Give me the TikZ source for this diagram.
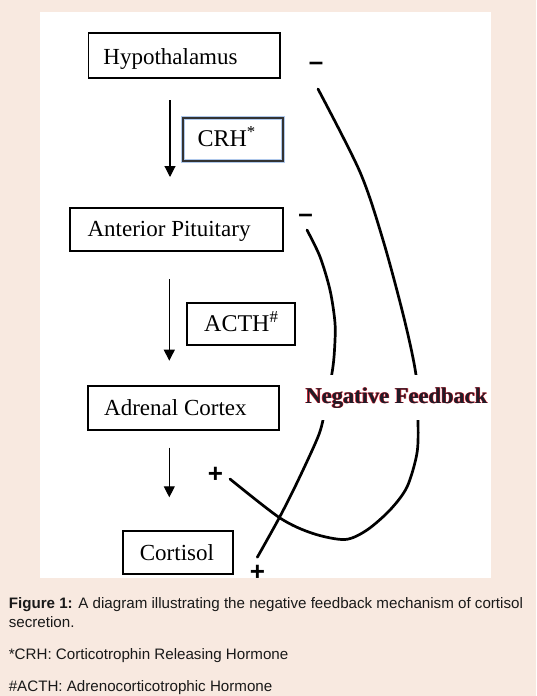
\documentclass[tikz,border=0pt]{standalone}
\usepackage{fontspec}
\setmainfont{Liberation Serif}
\newfontfamily\capfont{Liberation Sans}
\usetikzlibrary{arrows.meta}
\definecolor{bgpink}{RGB}{248,233,224}
\definecolor{glow}{RGB}{175,200,235}
\definecolor{nfred}{RGB}{225,30,45}
\definecolor{nfdark}{RGB}{30,28,40}
\begin{document}
\begin{tikzpicture}[x=1pt,y=-1pt,
  box/.style={draw=black, line width=1.8pt, anchor=north west, inner ysep=0pt,
    font=\fontsize{23}{27}\selectfont, text depth=14pt},
  crhbox/.style={box, draw=black!80, preaction={draw=glow, line width=3.8pt}},
  flow/.style={line width=1.1pt, -{Triangle[width=11pt,length=11pt]}},
  fb/.style={line width=2.7pt, line cap=round},
  sign/.style={font=\capfont\bfseries\fontsize{26}{26}\selectfont, inner sep=0pt},
  captxt/.style={font=\capfont\fontsize{15.15}{18}\selectfont, anchor=base west, inner sep=0pt, text=black!90}
]
\useasboundingbox (0,0) rectangle (536,696);
\fill[bgpink] (0,0) rectangle (536,696);
\fill[white] (40,12) rectangle (491,577.5);

% boxes
\node[box, inner xsep=15pt, text height=31.5pt] (hyp) at (87.5,31.8) {\makebox[161.5pt][l]{Hypothalamus}};
\node[crhbox, inner xsep=15pt, text height=28.7pt, font=\fontsize{24}{28}\selectfont] (crh) at (181.7,117.3) {\makebox[70pt][l]{CRH\textsuperscript{*}}};
\node[box, inner xsep=17.4pt, text height=29.3pt] (ap) at (69.3,206.7) {\makebox[178.2pt][l]{Anterior Pituitary}};
\node[box, inner xsep=17.3pt, text height=28.6pt, font=\fontsize{24}{28}\selectfont] (acth) at (186,301.7) {\makebox[73.7pt][l]{ACTH\textsuperscript{\#}}};
\node[box, inner xsep=16pt, text height=30pt] (ac) at (87.3,385) {\makebox[159pt][l]{Adrenal Cortex}};
\node[box, inner xsep=16.7pt, text height=29.3pt] (cort) at (122.3,530) {\makebox[76pt][l]{Cortisol}};

% vertical arrows
\coordinate (a1s) at (170,100);   \coordinate (a1e) at (170,177);
\coordinate (a2s) at (169.3,279.3); \coordinate (a2e) at (169.3,360.7);
\coordinate (a3s) at (169.3,447.7); \coordinate (a3e) at (169.3,497.3);
\draw[flow] (a1s) -- (a1e);
\draw[flow] (a2s) -- (a2e);
\draw[flow] (a3s) -- (a3e);

% feedback curves
\coordinate (o1) at (318,89);
\coordinate (o2) at (360,172);
\coordinate (o3) at (383,240);
\coordinate (o4) at (404,318);
\coordinate (o5) at (416,375);
\coordinate (o6) at (418,420);
\coordinate (o7) at (417,453);
\coordinate (o8) at (407,487);
\coordinate (o9) at (390,510);
\coordinate (o10) at (367,530);
\coordinate (o11) at (345,539.5);
\coordinate (o12) at (313,533.5);
\coordinate (o13) at (280,518);
\coordinate (o14) at (230,479);
\draw[fb] plot[smooth, tension=0.5] coordinates {(o1) (o2) (o3) (o4) (o5) (o6) (o7) (o8) (o9) (o10) (o11) (o12) (o13) (o14)};

\coordinate (i1) at (307,230);
\coordinate (i2) at (320,256.7);
\coordinate (i3) at (330,290);
\coordinate (i4) at (335,323);
\coordinate (i5) at (334.5,350);
\coordinate (i6) at (332,373);
\coordinate (i7) at (323,420);
\coordinate (i8) at (316.7,440);
\coordinate (i9) at (296.7,483.3);
\coordinate (i10) at (279,518.3);
\coordinate (i11) at (257.3,557.3);
\draw[fb] plot[smooth, tension=0.5] coordinates {(i1) (i2) (i3) (i4) (i5) (i6) (i7) (i8) (i9) (i10) (i11)};

% label
\node[fill=white, inner xsep=3pt, inner ysep=12pt, anchor=base, text=nfdark,
  font=\bfseries\fontsize{22.5}{26}\selectfont] (nf) at (396.5,403)
  {\rlap{\kern-0.6pt\textcolor{nfred}{Negative Feedback}}\rlap{\kern0.6pt\textcolor{nfred}{Negative Feedback}}Negative Feedback};

% signs
\node[sign] (m1) at (316,66) {–};
\node[sign] (m2) at (305.5,218.5) {–};
\node[sign] (p1) at (215.5,475.3) {+};
\begin{scope}
\clip (40,12) rectangle (491,577.5);
\node[sign] (p2) at (257.5,572.5) {+};
\end{scope}

% caption
\node[captxt] (c1) at (8.6,608.6) {\textbf{Figure 1:} A diagram illustrating the negative feedback mechanism of cortisol};
\node[captxt] (c2) at (8.6,627.5) {secretion.};
\node[captxt] (c3) at (8.6,659) {*CRH: Corticotrophin Releasing Hormone};
\node[captxt] (c4) at (8.6,691) {\#ACTH: Adrenocorticotrophic Hormone};
\end{tikzpicture}
\end{document}
